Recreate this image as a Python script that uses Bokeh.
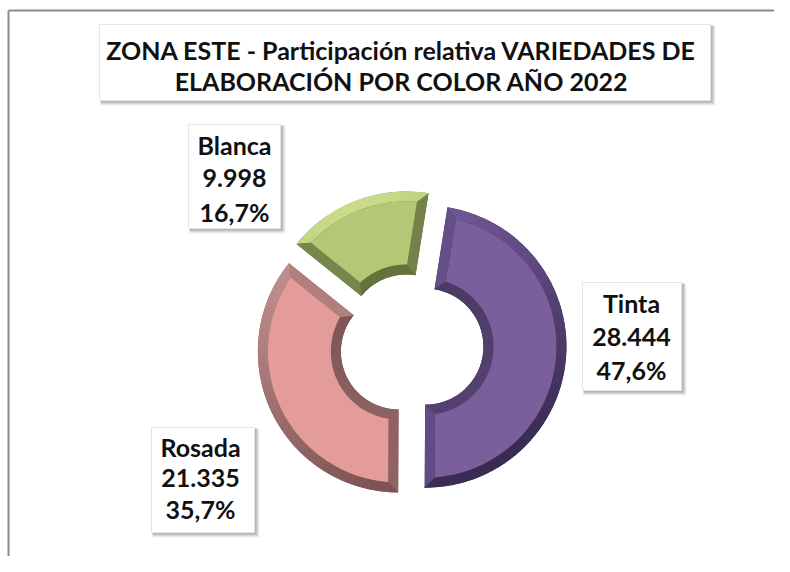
import math
from bokeh.plotting import figure
from bokeh.models import Range1d
from bokeh.core.properties import value
from bokeh.embed import file_html
from bokeh.resources import INLINE

# ---------------- data ----------------
categories = ["Tinta", "Rosada", "Blanca"]
values = [28444, 21335, 9998]
title_lines = ["ZONA ESTE - Participación  relativa VARIEDADES DE",
               "ELABORACIÓN POR COLOR  AÑO 2022"]

# ---------------- styles ----------------
face_colors = ["#7b5f9c", "#e39c9a", "#b5c776"]
bevel_light = ["#725a9a", "#c39290", "#cadc8a"]
bevel_dark = ["#3a2b52", "#7a4f4f", "#5a6735"]
inner_colors = ["#4b3a64", "#7f5553", "#66733e"]

FONT = "Lato"
PAGE_H = 572


def Y(py):
    return PAGE_H - py


def hex2rgb(h):
    h = h.lstrip("#")
    return tuple(int(h[i:i + 2], 16) for i in (0, 2, 4))


def mix(c1, c2, t):
    t = max(0.0, min(1.0, t))
    a, b = hex2rgb(c1), hex2rgb(c2)
    return "#%02x%02x%02x" % tuple(int(round(a[i] + (b[i] - a[i]) * t)) for i in range(3))


def light(phi_deg):
    # phi: direction of surface normal, degrees clockwise from up
    s = math.radians(phi_deg)
    return (-0.4 * math.sin(s) + 0.92 * math.cos(s) + 1) / 2


p = figure(width=774, height=556, x_range=Range1d(1, 775), y_range=Range1d(15, 571),
           output_backend="svg", toolbar_location=None, min_border=0,
           x_axis_type=None, y_axis_type=None)
p.grid.visible = False
p.outline_line_color = None
p.background_fill_color = "white"
p.border_fill_color = "white"

# chart-area border (left and top)
p.line(x=[9, 9], y=[Y(11), Y(600)], line_color="#8c8c8c", line_width=2)
p.line(x=[9, 800], y=[Y(11), Y(11)], line_color="#8c8c8c", line_width=2)

# ---------------- doughnut ----------------
total = sum(values)
rotation = 9.0          # first slice angle, degrees clockwise from 12 o'clock
cx, cy = 412, 346       # page px
R, r = 141, 58
explode = 14
bev = 10


def pt(ox, oy, rad, th):
    t = math.radians(th)
    return ox + rad * math.sin(t), oy + rad * math.cos(t)


theta = rotation
for i, v in enumerate(values):
    span = v / total * 360.0
    t1, t2 = theta, theta + span
    mid = (t1 + t2) / 2
    ox, oy = pt(cx, Y(cy), explode, mid)
    # base slice
    p.annular_wedge(x=ox, y=oy, inner_radius=r, outer_radius=R,
                    start_angle=math.radians(90 - t2), end_angle=math.radians(90 - t1),
                    fill_color=bevel_dark[i], line_color=None)
    do = math.degrees(math.asin(bev / (R - bev)))
    di = math.degrees(math.asin(bev / (r + bev)))
    xs, ys, cols = [], [], []
    # outer band (mitred) with lighting gradient
    n = 60
    for k in range(n):
        a1 = t1 + span * k / n
        a2 = t1 + span * (k + 1) / n
        b1 = t1 + do + (span - 2 * do) * k / n
        b2 = t1 + do + (span - 2 * do) * (k + 1) / n
        P = [pt(ox, oy, R, a1), pt(ox, oy, R, a2 + 0.3), pt(ox, oy, R - bev, b2 + 0.3), pt(ox, oy, R - bev, b1)]
        xs.append([q[0] for q in P]); ys.append([q[1] for q in P])
        cols.append(mix(bevel_dark[i], bevel_light[i], light((a1 + a2) / 2)))
    # inner band
    for k in range(n):
        a1 = t1 + span * k / n
        a2 = t1 + span * (k + 1) / n
        b1 = t1 + di + (span - 2 * di) * k / n
        b2 = t1 + di + (span - 2 * di) * (k + 1) / n
        P = [pt(ox, oy, r, a1), pt(ox, oy, r, a2 + 0.3), pt(ox, oy, r + bev, b2 + 0.3), pt(ox, oy, r + bev, b1)]
        xs.append([q[0] for q in P]); ys.append([q[1] for q in P])
        cols.append(mix(inner_colors[i], bevel_light[i], 0.25 * (1 - light((a1 + a2) / 2))))
    # cut bands
    for (ta, tb_o, tb_i, nrm) in [(t1, t1 + do, t1 + di, t1 - 90), (t2, t2 - do, t2 - di, t2 + 90)]:
        P = [pt(ox, oy, R, ta), pt(ox, oy, R - bev, tb_o), pt(ox, oy, r + bev, tb_i), pt(ox, oy, r, ta)]
        xs.append([q[0] for q in P]); ys.append([q[1] for q in P])
        cols.append(mix(bevel_dark[i], bevel_light[i], light(nrm)))
    p.patches(xs=xs, ys=ys, fill_color=cols, line_color=None)
    # face
    m = 80
    fo = [pt(ox, oy, R - bev, t1 + do + (span - 2 * do) * k / m) for k in range(m + 1)]
    fi = [pt(ox, oy, r + bev, t2 - di - (span - 2 * di) * k / m) for k in range(m + 1)]
    F = fo + fi
    p.patch(x=[q[0] for q in F], y=[q[1] for q in F], fill_color=face_colors[i], line_color=None)
    theta = t2


# ---------------- boxes with shadow ----------------
def shadow_box(x0, y0, x1, y1):
    for k, a in [(5, 0.05), (4, 0.07), (3, 0.09), (2, 0.1)]:
        p.quad(left=x0 + 1, right=x1 + k, top=Y(y0 + 1), bottom=Y(y1 + k),
               fill_color="#000000", fill_alpha=a, line_color=None)
    p.quad(left=x0, right=x1, top=Y(y0), bottom=Y(y1),
           fill_color="white", line_color="#e6e6e6", line_width=1)


# title
shadow_box(100, 25, 711, 101)
p.text(x=[405, 405], y=[Y(50), Y(81)], text=title_lines,
       text_font=value(FONT), text_font_style="bold", text_font_size="25px",
       text_align="center", text_baseline="middle", text_color="#111111")

# data labels
label_boxes = [(583, 283, 682, 391), (152, 428, 255, 533), (189, 125, 281, 229)]
label_cx = [632, 201, 235]
label_ys = [(303, 337, 370), (447, 478, 509), (145, 178, 212)]
for i, cat in enumerate(categories):
    x0, y0, x1, y1 = label_boxes[i]
    shadow_box(x0, y0, x1, y1)
    vtxt = f"{values[i]:,}".replace(",", ".")
    ptxt = f"{values[i] / total * 100:.1f}".replace(".", ",") + "%"
    p.text(x=[label_cx[i]] * 3, y=[Y(yy) for yy in label_ys[i]],
           text=[cat, vtxt, ptxt],
           text_font=value(FONT), text_font_style="bold", text_font_size="25px",
           text_align="center", text_baseline="middle", text_color="#111111")

open("out.html", "w").write(file_html(p, INLINE))
